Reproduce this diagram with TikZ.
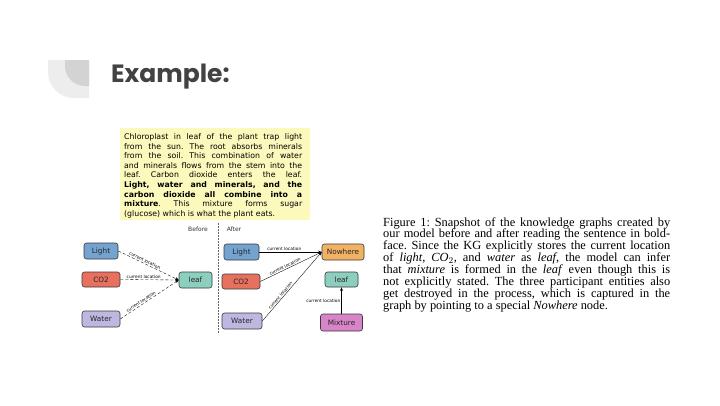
\documentclass[tikz,border=0pt]{standalone}
\usepackage{fontspec}
\setmainfont{Liberation Serif}
\newfontfamily\dvs{DejaVu Sans}
\newfontfamily\ttl{Poppins}
\usetikzlibrary{arrows.meta}
\definecolor{decoLight}{HTML}{EDEDED}
\definecolor{decoDark}{HTML}{D3D3D3}
\definecolor{titleGray}{HTML}{424242}
\definecolor{yel}{HTML}{FCF9BC}
\definecolor{nodeBorder}{HTML}{3A3A3A}
\definecolor{cLight}{HTML}{74A3CF}
\definecolor{cCO}{HTML}{E8705F}
\definecolor{cWater}{HTML}{BDB8E0}
\definecolor{cLeaf}{HTML}{8DCFBF}
\definecolor{cNow}{HTML}{F2B264}
\definecolor{cMix}{HTML}{D884C8}
\frenchspacing
\begin{document}
\begin{tikzpicture}[x=1pt,y=-1pt,
  gnode/.style={draw=nodeBorder, rounded corners=2.5pt, line width=0.6pt, inner sep=0pt,
    minimum height=16pt, font=\dvs\fontsize{7.3}{8}\selectfont, text=black!85},
  elabel/.style={font=\dvs\fontsize{4.3}{5}\selectfont, inner sep=1pt, text=black},
  tipstyle/.style={-{Stealth[length=3.6pt,width=2.8pt]}},
  dedge/.style={tipstyle, densely dashed, line width=0.35pt},
  sedge/.style={tipstyle, line width=0.35pt},
  bedge/.style={tipstyle, line width=0.8pt},
  phase/.style={font=\dvs\fontsize{6}{7}\selectfont, text=black!80, inner sep=0pt}]
\useasboundingbox (0,0) rectangle (720,405);
\fill[white] (0,0) rectangle (720,405);
% decoration
\fill[decoLight] (89,60) -- (48,60) -- (48,72) .. controls (48,86.4) and (59.6,98) .. (74,98) -- (89,98) -- cycle;
\fill[decoDark] (89,60) -- (65,60) -- (65,66) .. controls (65,77) and (74,86) .. (85,86) -- (89,86) -- cycle;
% title
\node[anchor=base west, inner sep=0pt, text=titleGray] (title) at (111,82)
  {\ttl\bfseries\fontsize{25}{30}\selectfont Example:};
% yellow text box
\fill[yel] (120,128) rectangle (310,220);
\node[anchor=base west, inner sep=0pt] (para) at (124,139.5) {\parbox[t]{178pt}{\dvs\fontsize{7.8}{9.6}\selectfont
\makebox[178pt][s]{Chloroplast in leaf of the plant trap light}\\
\makebox[178pt][s]{from the sun. The root absorbs minerals}\\
\makebox[178pt][s]{from the soil. This combination of water}\\
\makebox[178pt][s]{and minerals flows from the stem into the}\\
\makebox[178pt][s]{leaf. Carbon dioxide enters the leaf.}\\
\makebox[178pt][s]{\bfseries Light, water and minerals, and the}\\
\makebox[178pt][s]{\bfseries carbon dioxide all combine into a}\\
\makebox[178pt][s]{\textbf{mixture}. This mixture forms sugar}\\
(glucose) which is what the plant eats.}};
% phase labels and separator
\node[phase] (before) at (198,229) {Before};
\node[phase] (after) at (234,229) {After};
\coordinate (sepTop) at (218,223);
\coordinate (sepBot) at (218,334);
\draw[black!60, dashed, line width=0.4pt, dash pattern=on 1.5pt off 1.5pt] (sepTop) -- (sepBot);
% before graph
\node[gnode, fill=cLight, minimum width=34pt] (L1) at (101,251) {Light};
\node[gnode, fill=cCO, minimum width=38pt, minimum height=15pt] (C1) at (101,279.5) {CO2};
\node[gnode, fill=cWater, minimum width=38pt] (W1) at (101,319) {Water};
\node[gnode, fill=cLeaf, minimum width=33pt] (F1) at (195.5,280) {leaf};
\draw[dedge] (L1.east) -- node[elabel, sloped, above, pos=0.42] {current location} (F1.west);
\draw[dedge] (C1.east) -- node[elabel, sloped, above, pos=0.4] {current location} (F1.west);
\draw[dedge] (W1.east) -- node[elabel, sloped, above, pos=0.38] {current location} (F1.west);
% after graph
\node[gnode, fill=cLight, minimum width=35pt] (L2) at (241.5,252) {Light};
\node[gnode, fill=cCO, minimum width=38pt, minimum height=15pt] (C2) at (241,281.5) {CO2};
\node[gnode, fill=cWater, minimum width=40pt] (W2) at (242,321) {Water};
\node[gnode, fill=cNow, minimum width=42pt] (N2) at (343,252) {Nowhere};
\node[gnode, fill=cLeaf, minimum width=33pt, minimum height=15pt] (F2) at (341.5,279.5) {leaf};
\node[gnode, fill=cMix, minimum width=42pt, minimum height=17pt] (M2) at (341.5,322.5) {Mixture};
\draw[bedge] (L2.east) -- node[elabel, above, pos=0.4] {current location} (N2.west);
\draw[sedge] (C2.east) -- node[elabel, sloped, above, pos=0.42] {current location} (N2.west);
\draw[sedge] (W2.east) -- node[elabel, sloped, above, pos=0.34] {current location} (N2.west);
\draw[sedge, line width=0.5pt] (M2.north) -- node[elabel, left, pos=0.5] {current location} (F2.south);
% caption
\node[anchor=base west, inner sep=0pt] (caption) at (383,226) {\parbox[t]{287pt}{\fontsize{12.4}{11.9}\selectfont
\makebox[287pt][s]{Figure 1: Snapshot of the knowledge graphs created by}\\
\makebox[287pt][s]{our model before and after reading the sentence in bold-}\\
\makebox[287pt][s]{face. Since the KG explicitly stores the current location}\\
\makebox[287pt][s]{of \textit{light}, \textit{CO}$_2$, and \textit{water} as \textit{leaf}, the model can infer}\\
\makebox[287pt][s]{that \textit{mixture} is formed in the \textit{leaf} even though this is}\\
\makebox[287pt][s]{not explicitly stated. The three participant entities also}\\
\makebox[287pt][s]{get destroyed in the process, which is captured in the}\\
graph by pointing to a special \textit{Nowhere} node.}};
\end{tikzpicture}
\end{document}
